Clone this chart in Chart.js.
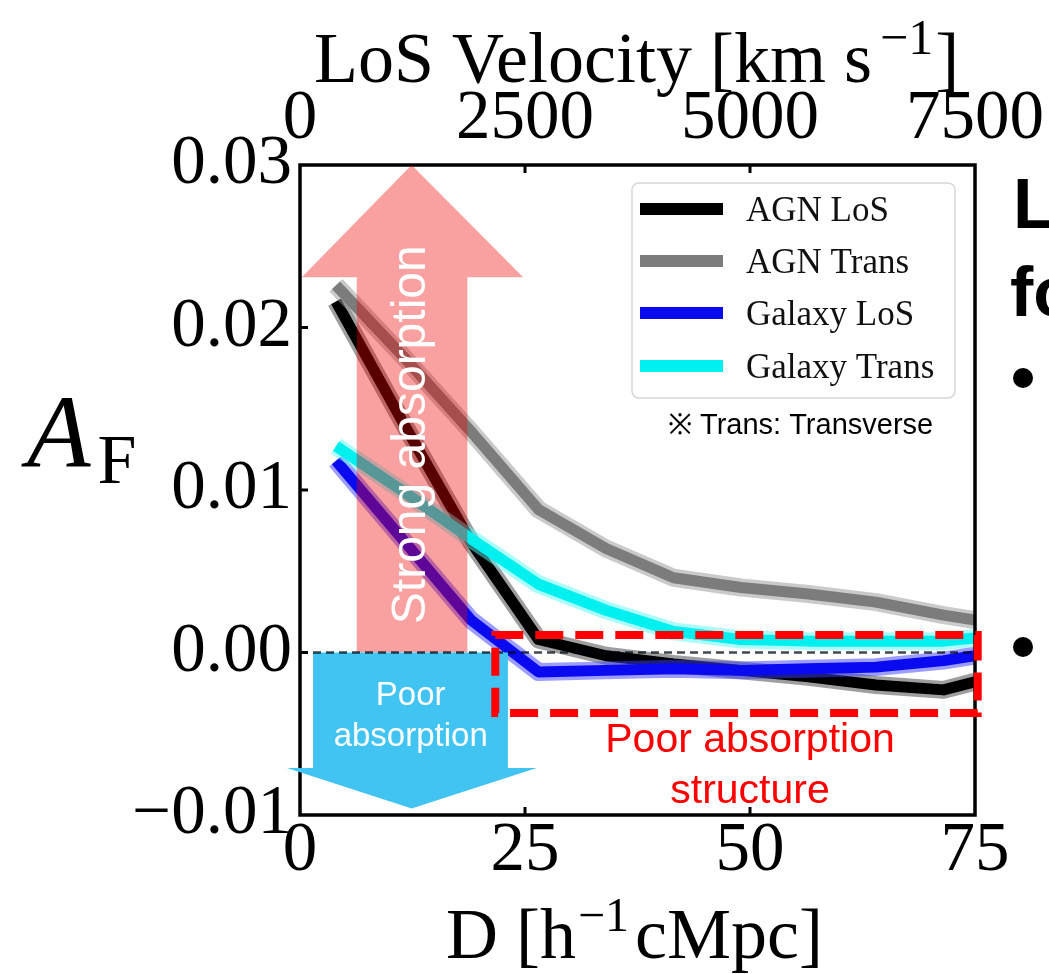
<!DOCTYPE html>
<html>
<head>
<meta charset="utf-8">
<script src="https://cdn.jsdelivr.net/npm/chart.js@4.4.1/dist/chart.umd.min.js"></script>
<style>
  html, body { margin: 0; padding: 0; background: #fff; }
  #wrap { width: 1049px; height: 974px; }
</style>
</head>
<body>
<div id="wrap"><canvas id="afChart" width="1049" height="974"></canvas></div>
<script>
// separation D [h^-1 cMpc] of the stacked bins
const distance = [4, 11.5, 19, 26.5, 34, 41.5, 49, 56.5, 64, 71.5, 75];

// flux contrast A_F per sample
const agnLos      = [0.0216, 0.0141, 0.0068, 0.0008, -0.0002, -0.0007, -0.0011, -0.0015, -0.0020, -0.0023, -0.0018];
const agnTrans    = [0.0226, 0.0182, 0.0136, 0.0088, 0.0064, 0.0046, 0.0040, 0.0036, 0.0031, 0.0023, 0.0020];
const galaxyLos   = [0.0118, 0.0069, 0.0020, -0.0012, -0.0011, -0.0010, -0.0011, -0.0010, -0.0009, -0.0005, -0.0002];
const galaxyTrans = [0.0127, 0.0099, 0.0070, 0.0042, 0.0026, 0.0013, 0.0008, 0.0007, 0.0007, 0.0007, 0.0009];

const seriesNames = ['AGN LoS', 'AGN Trans', 'Galaxy LoS', 'Galaxy Trans'];
const seriesValues = [agnLos, agnTrans, galaxyLos, galaxyTrans];
const seriesColors = ['#000000', '#7c7c7c', '#0a0af0', '#00f0f0'];
const haloColors = ['rgba(40,40,40,0.45)', 'rgba(150,150,150,0.5)', 'rgba(60,60,255,0.5)', 'rgba(90,250,250,0.5)'];

const distanceTicks = [0, 25, 50, 75];
const velocityTicks = [0, 2500, 5000, 7500];
const afTicks = [-0.01, 0, 0.01, 0.02, 0.03];

const serif = '"Liberation Serif", "Times New Roman", serif';
const sans = '"Liberation Sans", Arial, Helvetica, sans-serif';

function setTicks(list) {
  return scale => { scale.ticks = list.map(v => ({ value: v })); };
}

// draws text pieces one after another, each with its own size and baseline shift
function drawRun(ctx, x, y, parts) {
  ctx.textAlign = 'left';
  ctx.textBaseline = 'alphabetic';
  for (const p of parts) {
    ctx.font = p.font;
    ctx.fillText(p.text, x + (p.dx || 0), y + (p.dy || 0));
    x += (p.dx || 0) + ctx.measureText(p.text).width;
  }
}

const overlay = {
  id: 'overlay',
  // soft error band under each curve
  beforeDatasetDraw(chart, args) {
    const pts = args.meta.data;
    const ctx = chart.ctx;
    const a = chart.chartArea;
    ctx.save();
    ctx.beginPath();
    ctx.rect(a.left, a.top - 10, a.width, a.height + 20);
    ctx.clip();
    ctx.strokeStyle = haloColors[args.index];
    ctx.lineWidth = 18;
    ctx.lineJoin = 'round';
    ctx.beginPath();
    pts.forEach((p, i) => (i ? ctx.lineTo(p.x, p.y) : ctx.moveTo(p.x, p.y)));
    ctx.stroke();
    ctx.restore();
  },
  afterDatasetsDraw(chart) {
    const { ctx, chartArea: a, scales } = chart;
    const px = v => scales.x.getPixelForValue(v);
    const py = v => scales.y.getPixelForValue(v);
    ctx.save();

    // frame with inward ticks
    ctx.strokeStyle = '#000';
    ctx.lineWidth = 3.5;
    ctx.strokeRect(a.left, a.top, a.width, a.height);
    ctx.lineWidth = 3;
    ctx.beginPath();
    distanceTicks.slice(1, -1).forEach(v => { ctx.moveTo(px(v), a.bottom); ctx.lineTo(px(v), a.bottom - 8); });
    velocityTicks.slice(1, -1).forEach(v => {
      const xv = scales.x2.getPixelForValue(v);
      ctx.moveTo(xv, a.top); ctx.lineTo(xv, a.top + 8);
    });
    afTicks.slice(1, -1).forEach(v => { ctx.moveTo(a.left, py(v)); ctx.lineTo(a.left + 8, py(v)); });
    ctx.stroke();

    // up arrow: strong absorption
    ctx.fillStyle = 'rgba(240,0,0,0.37)';
    ctx.beginPath();
    ctx.moveTo(px(6.3), py(0));
    ctx.lineTo(px(6.3), py(0.0231));
    ctx.lineTo(px(0.2), py(0.0231));
    ctx.lineTo(px(12.4), py(0.03));
    ctx.lineTo(px(24.8), py(0.0231));
    ctx.lineTo(px(18.6), py(0.0231));
    ctx.lineTo(px(18.6), py(0));
    ctx.closePath();
    ctx.fill();

    // down arrow: poor absorption
    ctx.fillStyle = '#41c4f1';
    ctx.beginPath();
    ctx.moveTo(px(1.45), py(0));
    ctx.lineTo(px(23.1), py(0));
    ctx.lineTo(px(23.1), py(-0.0071));
    ctx.lineTo(px(26.3), py(-0.0071));
    ctx.lineTo(px(12.4), py(-0.0096));
    ctx.lineTo(px(-1.45), py(-0.0071));
    ctx.lineTo(px(1.45), py(-0.0071));
    ctx.closePath();
    ctx.fill();

    // zero reference
    ctx.setLineDash([8, 5]);
    ctx.lineWidth = 2.5;
    ctx.strokeStyle = 'rgba(0,10,20,0.75)';
    ctx.beginPath();
    ctx.moveTo(px(0), py(0)); ctx.lineTo(px(75), py(0));
    ctx.stroke();
    ctx.setLineDash([]);

    ctx.fillStyle = '#fff';
    ctx.font = '33px ' + sans;
    ctx.textAlign = 'center';
    ctx.textBaseline = 'alphabetic';
    ctx.fillText('Poor', px(12.3), 705);
    ctx.fillText('absorption', px(12.3), 746);

    ctx.save();
    ctx.translate(px(13.9), py(0.0134));
    ctx.rotate(-Math.PI / 2);
    ctx.font = '48px ' + sans;
    ctx.fillText('Strong absorption', 0, 0);
    ctx.restore();

    // dashed box around the flat negative tail
    ctx.strokeStyle = '#ff0000';
    ctx.lineWidth = 8;
    ctx.setLineDash([28, 12]);
    ctx.strokeRect(px(21.7), py(0.00108), px(75.3) - px(21.7), py(-0.00372) - py(0.00108));
    ctx.setLineDash([]);
    ctx.fillStyle = '#ff0000';
    ctx.font = '41px ' + sans;
    ctx.fillText('Poor absorption', px(50), 752);
    ctx.fillText('structure', px(50), 803);

    // legend
    const lx = 632, ly = 183, lw = 323, lh = 215;
    ctx.fillStyle = 'rgba(255,255,255,0.85)';
    ctx.strokeStyle = '#d6d6d6';
    ctx.lineWidth = 1.5;
    ctx.beginPath();
    ctx.roundRect(lx, ly, lw, lh, 7);
    ctx.fill();
    ctx.stroke();
    const rows = [209, 261, 313, 366];
    ctx.textAlign = 'left';
    chart.data.datasets.forEach((ds, i) => {
      ctx.strokeStyle = ds.borderColor;
      ctx.lineWidth = 12;
      ctx.beginPath();
      ctx.moveTo(640, rows[i]); ctx.lineTo(723, rows[i]);
      ctx.stroke();
      ctx.fillStyle = '#111';
      ctx.font = '35px ' + serif;
      ctx.fillText(ds.label, 746, rows[i] + 12);
    });
    ctx.fillStyle = '#000';
    ctx.font = '29px ' + sans;
    ctx.fillText('\u203B Trans: Transverse', 668, 434);

    ctx.restore();
  },
  afterDraw(chart) {
    const { ctx } = chart;
    ctx.save();
    ctx.fillStyle = '#000';

    // axis titles with superscripts
    drawRun(ctx, 314, 82, [
      { text: 'LoS Velocity [km s', font: '72px ' + serif },
      { text: '\u22121', font: '50px ' + serif, dx: 8, dy: -28 },
      { text: ']', font: '72px ' + serif, dx: 2 }
    ]);
    drawRun(ctx, 446, 958, [
      { text: 'D [h', font: '72px ' + serif },
      { text: '\u22121', font: '48px ' + serif, dx: 2, dy: -27 },
      { text: 'cMpc]', font: '72px ' + serif, dx: 6 }
    ]);
    drawRun(ctx, 27, 467, [
      { text: 'A', font: 'italic 104px ' + serif },
      { text: 'F', font: '70px ' + serif, dx: 7, dy: 16 }
    ]);

    // slide text running off the right edge
    ctx.font = 'bold 70px ' + sans;
    ctx.textAlign = 'left';
    ctx.fillText('L', 1013, 228);
    ctx.fillText('fo', 1010, 316);
    ctx.beginPath();
    ctx.arc(1023, 378, 10, 0, Math.PI * 2);
    ctx.arc(1023, 647, 10, 0, Math.PI * 2);
    ctx.fill();
    ctx.restore();
  }
};

const datasets = seriesNames.map((name, i) => ({
  label: name,
  data: distance.map((d, j) => ({ x: d, y: seriesValues[i][j] })),
  borderColor: seriesColors[i],
  backgroundColor: seriesColors[i],
  borderWidth: 11,
  borderJoinStyle: 'round',
  pointRadius: 0,
  tension: 0,
  fill: false,
  order: seriesNames.length - i
}));

const tickFont = { family: serif, size: 69, lineHeight: 1 };
const noGrid = { display: false, drawTicks: false };

new Chart(document.getElementById('afChart'), {
  type: 'line',
  data: { datasets },
  options: {
    responsive: false,
    animation: false,
    devicePixelRatio: 1,
    layout: { padding: { left: 0, right: 74, top: 0, bottom: 0 } },
    plugins: { legend: { display: false }, tooltip: { enabled: false } },
    scales: {
      x: {
        type: 'linear', position: 'bottom', min: 0, max: 75,
        afterBuildTicks: setTicks(distanceTicks),
        ticks: { font: tickFont, color: '#000', padding: 2.5, maxRotation: 0, callback: v => String(v) },
        grid: noGrid, border: { display: false },
        afterFit: s => { s.height = 159; s.paddingLeft = 0; s.paddingRight = 0; }
      },
      x2: {
        type: 'linear', position: 'top', min: 0, max: 7500,
        afterBuildTicks: setTicks(velocityTicks),
        ticks: { font: tickFont, color: '#000', padding: 11, maxRotation: 0, callback: v => String(v) },
        grid: noGrid, border: { display: false },
        afterFit: s => { s.height = 165; s.paddingLeft = 0; s.paddingRight = 0; }
      },
      y: {
        type: 'linear', position: 'left', min: -0.01, max: 0.03,
        afterBuildTicks: setTicks(afTicks),
        ticks: {
          font: tickFont, color: '#000', padding: 8,
          callback: v => (v < 0 ? '\u2212' + (-v).toFixed(2) : Math.abs(v).toFixed(2))
        },
        grid: noGrid, border: { display: false },
        afterFit: s => { s.width = 300; s.paddingTop = 0; s.paddingBottom = 0; }
      }
    }
  },
  plugins: [overlay]
});
</script>
</body>
</html>
